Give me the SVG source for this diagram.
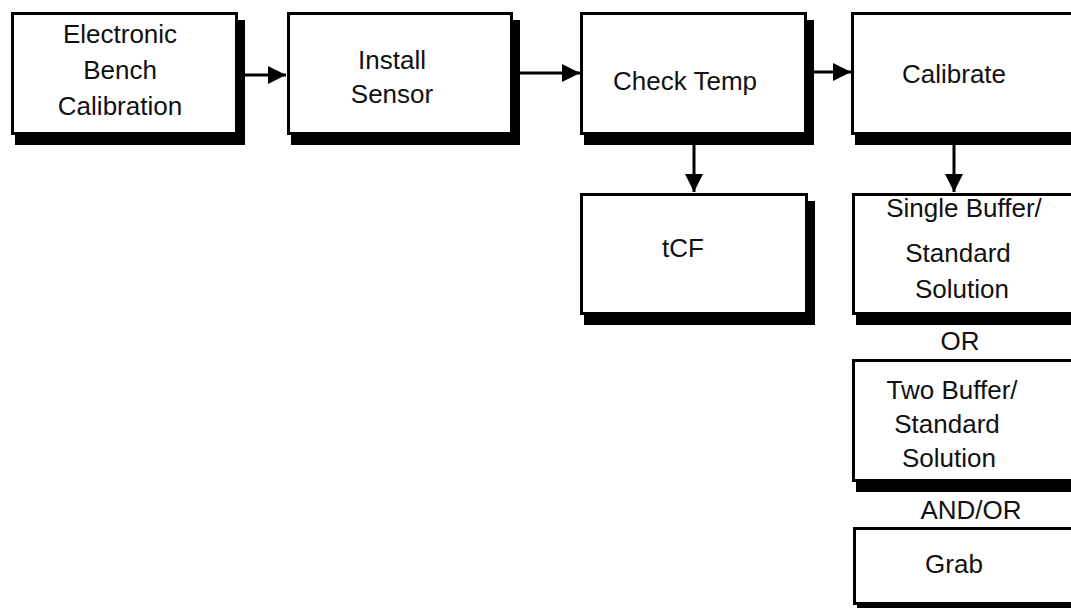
<svg xmlns="http://www.w3.org/2000/svg" width="1071" height="610" viewBox="0 0 1071 610">
<defs>
<style>
.box{fill:#fff;stroke:#000;stroke-width:3}
.sh{fill:#000}
text{font-family:"Liberation Sans",Arial,sans-serif;font-size:26px;fill:#111;text-anchor:middle}
.ln{stroke:#000;stroke-width:3;fill:none}
</style>
<marker id="ah" markerWidth="20" markerHeight="20" viewBox="0 0 20 20" refX="18" refY="10" markerUnits="userSpaceOnUse" orient="auto">
<path d="M0,1 L18,10 L0,19 Z" fill="#000"/>
</marker>
</defs>
<rect width="1071" height="610" fill="#fff"/>
<g id="connectors">
<line class="ln" x1="238" y1="75" x2="286" y2="75" marker-end="url(#ah)"/>
<line class="ln" x1="513" y1="73" x2="580" y2="73" marker-end="url(#ah)"/>
<line class="ln" x1="807" y1="72" x2="851" y2="72" marker-end="url(#ah)"/>
<line class="ln" x1="694" y1="135" x2="694" y2="192" marker-end="url(#ah)"/>
<line class="ln" x1="954" y1="135" x2="954" y2="192" marker-end="url(#ah)"/>
</g>
<g id="n1">
<rect class="sh" x="15" y="20" width="230" height="125"/>
<rect class="box" x="12.5" y="13.5" width="224" height="120"/>
<text x="120" y="43">Electronic</text>
<text x="120" y="79">Bench</text>
<text x="120" y="115">Calibration</text>
</g>
<g id="n2">
<rect class="sh" x="291" y="20" width="229" height="125"/>
<rect class="box" x="288.5" y="13.5" width="223" height="120"/>
<text x="392" y="69">Install</text>
<text x="392" y="103">Sensor</text>
</g>
<g id="n3">
<rect class="sh" x="584" y="20" width="230" height="125"/>
<rect class="box" x="581.5" y="13.5" width="224" height="120"/>
<text x="685" y="90">Check Temp</text>
</g>
<g id="n4">
<rect class="sh" x="855" y="20" width="240" height="125"/>
<rect class="box" x="852.5" y="13.5" width="231" height="120"/>
<text x="954" y="83">Calibrate</text>
</g>
<g id="n5">
<rect class="sh" x="584" y="201" width="231" height="124"/>
<rect class="box" x="581.5" y="194.5" width="225" height="119"/>
<text x="683" y="257">tCF</text>
</g>
<g id="n6">
<rect class="sh" x="856" y="201" width="240" height="124"/>
<rect class="box" x="853.5" y="194.5" width="231" height="119"/>
<text x="964" y="217">Single Buffer/</text>
<text x="958" y="262">Standard</text>
<text x="962" y="298">Solution</text>
</g>
<text id="t-or" x="960" y="350">OR</text>
<g id="n7">
<rect class="sh" x="856" y="367" width="240" height="125"/>
<rect class="box" x="853.5" y="360.5" width="231" height="120"/>
<text x="952" y="399">Two Buffer/</text>
<text x="947" y="433">Standard</text>
<text x="949" y="467">Solution</text>
</g>
<text id="t-andor" x="971" y="519">AND/OR</text>
<g id="n8">
<rect class="sh" x="857" y="533" width="240" height="75"/>
<rect class="box" x="854.5" y="528.5" width="231" height="75"/>
<text x="954" y="573">Grab</text>
</g>
</svg>
